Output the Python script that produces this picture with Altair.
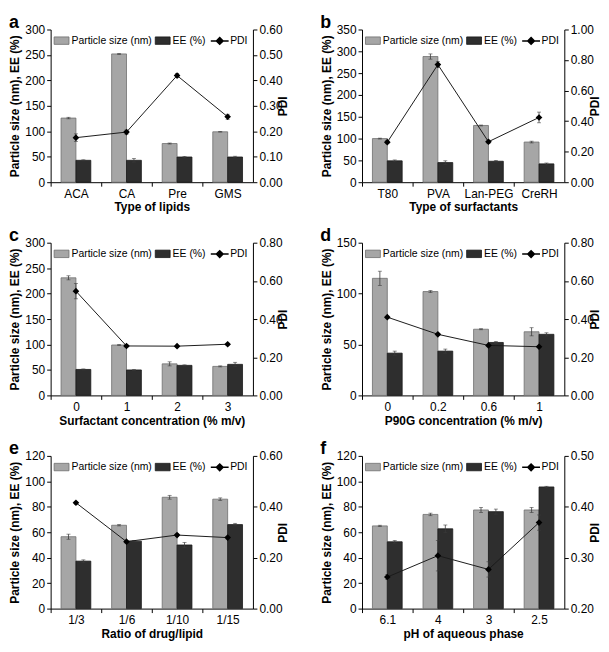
import altair as alt
import pandas as pd

FONT = "Liberation Sans"
PS = "Particle size (nm)"
EE = "EE (%)"
PDI = "PDI"

letters = ["a", "b", "c", "d", "e", "f"]
x_titles = [
    "Type of lipids",
    "Type of surfactants",
    "Surfactant concentration (% m/v)",
    "P90G concentration (% m/v)",
    "Ratio of drug/lipid",
    "pH of aqueous phase",
]
categories = [
    ["ACA", "CA", "Pre", "GMS"],
    ["T80", "PVA", "Lan-PEG", "CreRH"],
    ["0", "1", "2", "3"],
    ["0", "0.2", "0.6", "1"],
    ["1/3", "1/6", "1/10", "1/15"],
    ["6.1", "4", "3", "2.5"],
]
ps_vals = [
    [126, 252, 76, 99],
    [100, 288, 130, 92],
    [231, 99, 62, 57],
    [115, 102, 65, 62.5],
    [56.5, 65.5, 87.5, 86],
    [65, 74, 77.5, 77.5],
]
ps_errs = [
    [1.5, 1, 1, 0.5],
    [1, 6, 1, 2],
    [4, 1, 4, 1],
    [7, 1, 0.5, 4],
    [2, 0.5, 1.5, 1],
    [0.5, 1, 2, 2],
]
ee_vals = [
    [43, 43, 49.5, 49.5],
    [49, 45, 48, 42],
    [51, 50, 59, 61],
    [41.5, 43.5, 52, 60],
    [37.3, 53, 50, 66],
    [52.5, 62.7, 76.2, 95.6],
]
ee_errs = [
    [1, 3.5, 1, 1.5],
    [2, 4, 2, 2],
    [1, 1, 1, 4],
    [2, 2, 1, 1.5],
    [1, 0.5, 2, 1],
    [1, 3, 2, 0.5],
]
pdi_vals = [
    [0.175, 0.197, 0.419, 0.257],
    [0.262, 0.77, 0.265, 0.424],
    [0.546, 0.259, 0.258, 0.268],
    [0.41, 0.32, 0.262, 0.255],
    [0.416, 0.263, 0.289, 0.279],
    [0.262, 0.304, 0.277, 0.369],
]
pdi_errs = [
    [0.015, 0.008, 0.008, 0.01],
    [0.01, 0.02, 0.01, 0.035],
    [0.04, 0.005, 0.005, 0.005],
    [0.005, 0.005, 0.005, 0.005],
    [0.005, 0.005, 0.005, 0.005],
    [0.005, 0.03, 0.015, 0.015],
]
left_ticks = [
    [0, 50, 100, 150, 200, 250, 300],
    [0, 50, 100, 150, 200, 250, 300, 350],
    [0, 50, 100, 150, 200, 250, 300],
    [0, 50, 100, 150],
    [0, 20, 40, 60, 80, 100, 120],
    [0, 20, 40, 60, 80, 100, 120],
]
right_ticks = [
    [0.0, 0.1, 0.2, 0.3, 0.4, 0.5, 0.6],
    [0.0, 0.2, 0.4, 0.6, 0.8, 1.0],
    [0.0, 0.2, 0.4, 0.6, 0.8],
    [0.0, 0.2, 0.4, 0.6, 0.8],
    [0.0, 0.2, 0.4, 0.6],
    [0.2, 0.3, 0.4, 0.5],
]

W = 204
H = 154
STEP = W / 4

GRAY = "#a6a6a6"
GRAY_EDGE = "#6f6f6f"
DARK = "#2e2e2e"
DARK_EDGE = "#1a1a1a"
ERR = "#3a3a3a"

BOX = "M-1,-0.5H1V0.5H-1Z"
LINE_DIAMOND = "M-1.2,0H1.2M0,-0.45L0.45,0L0,0.45L-0.45,0Z"

LEG_FONT = 10.5
LEG_Y = 3


def panel(i):
    cats = categories[i]
    bars_df = pd.DataFrame({
        "cat": cats * 2,
        "series": [PS] * 4 + [EE] * 4,
        "value": ps_vals[i] + ee_vals[i],
        "err": ps_errs[i] + ee_errs[i],
    })
    bars_df["lo"] = bars_df["value"] - bars_df["err"]
    bars_df["hi"] = bars_df["value"] + bars_df["err"]
    pdi_df = pd.DataFrame({"cat": cats, "pdi": pdi_vals[i], "err": pdi_errs[i]})
    pdi_df["lo"] = pdi_df["pdi"] - pdi_df["err"]
    pdi_df["hi"] = pdi_df["pdi"] + pdi_df["err"]
    pdi_df["series"] = PDI

    x_axis = alt.Axis(
        title=x_titles[i], labelAngle=0, tickOffset=-STEP / 2, labelOffset=STEP / 2,
        labelOverlap=False, titlePadding=3,
    )
    xenc = alt.X("cat:N", sort=cats, scale=alt.Scale(paddingInner=0, paddingOuter=0), axis=x_axis)
    xoff = alt.XOffset("series:N", sort=[PS, EE],
                       scale=alt.Scale(domain=[PS, EE], paddingOuter=0.7, paddingInner=0))

    lscale = alt.Scale(domain=[left_ticks[i][0], left_ticks[i][-1]], nice=False)
    laxis = alt.Axis(title="Particle size (nm), EE (%)", values=left_ticks[i], orient="left",
                     labelFlush=False, titlePadding=3, format="d")

    def yl(f):
        return alt.Y(f, scale=lscale, axis=laxis)

    rscale = alt.Scale(domain=[right_ticks[i][0], right_ticks[i][-1]], nice=False)
    raxis = alt.Axis(title="PDI", values=right_ticks[i], orient="right", format=".2f",
                     labelFlush=False, titlePadding=8, titleAngle=270)

    def yr(f):
        return alt.Y(f, scale=rscale, axis=raxis)

    bar_legend = alt.Legend(
        title=None, orient="none", legendX=3, legendY=LEG_Y, direction="horizontal",
        symbolSize=225, labelFontSize=LEG_FONT, labelOffset=2, columnPadding=0,
        symbolStrokeWidth=0.8, labelFont=FONT, labelColor="black",
        symbolType=BOX, symbolStrokeColor="#555555",
    )
    pdi_legend = alt.Legend(
        title=None, orient="none", legendX=162, legendY=LEG_Y, direction="horizontal",
        symbolSize=225, labelFontSize=LEG_FONT, labelOffset=2, symbolOpacity=1,
        labelFont=FONT, labelColor="black",
    )

    base = alt.Chart(bars_df)
    bars = base.mark_bar(strokeWidth=0.8).encode(
        x=xenc, xOffset=xoff, y=yl("value:Q"),
        color=alt.Color("series:N", scale=alt.Scale(domain=[PS, EE], range=[GRAY, DARK]),
                        legend=bar_legend),
        stroke=alt.Stroke("series:N", scale=alt.Scale(domain=[PS, EE], range=[GRAY_EDGE, DARK_EDGE]),
                          legend=None),
    )
    err_rule = base.mark_rule(color=ERR, strokeWidth=0.8).encode(
        x=xenc, xOffset=xoff, y=yl("lo:Q"), y2="hi:Q")
    cap_hi = base.mark_tick(color=ERR, thickness=0.8, size=4).encode(x=xenc, xOffset=xoff, y=yl("hi:Q"))
    cap_lo = base.mark_tick(color=ERR, thickness=0.8, size=4).encode(x=xenc, xOffset=xoff, y=yl("lo:Q"))
    left = alt.layer(bars, err_rule, cap_hi, cap_lo)

    pbase = alt.Chart(pdi_df)
    line = pbase.mark_line(color="#1a1a1a", strokeWidth=1).encode(x=xenc, y=yr("pdi:Q"))
    prule = pbase.mark_rule(color=ERR, strokeWidth=0.8).encode(x=xenc, y=yr("lo:Q"), y2="hi:Q")
    pcap_hi = pbase.mark_tick(color=ERR, thickness=0.8, size=4).encode(x=xenc, y=yr("hi:Q"))
    pcap_lo = pbase.mark_tick(color=ERR, thickness=0.8, size=4).encode(x=xenc, y=yr("lo:Q"))
    pts = pbase.mark_point(shape="diamond", filled=True, size=45, color="black", opacity=1).encode(
        x=xenc, y=yr("pdi:Q"))
    # legend-only layer (no rows reach the mark) giving the line + diamond key
    leg = pbase.transform_filter("false").mark_point(
        filled=True, color="black", stroke="black", strokeWidth=1, opacity=1
    ).encode(
        x=xenc, y=yr("pdi:Q"),
        shape=alt.Shape("series:N", scale=alt.Scale(domain=[PDI], range=[LINE_DIAMOND]),
                        legend=pdi_legend),
    )
    right = alt.layer(line, prule, pcap_hi, pcap_lo, pts, leg)

    return alt.layer(left, right).resolve_scale(y="independent").properties(
        width=W, height=H,
        title=alt.TitleParams(letters[i], anchor="start", frame="bounds", fontSize=18,
                              fontWeight="bold", font=FONT, color="black", offset=-8),
    )


chart = alt.concat(*[panel(i) for i in range(6)], columns=2,
                   spacing={"row": 14, "column": 30}).resolve_scale(
    color="independent", stroke="independent", shape="independent"
).resolve_legend(color="independent", shape="independent").properties(
    padding={"top": 3, "left": 0, "right": 0, "bottom": 0}
).configure_axis(
    labelFont=FONT, titleFont=FONT, labelFontSize=12, titleFontSize=12, titleFontWeight="bold",
    labelColor="black", titleColor="black", domainColor="black", tickColor="black",
    tickSize=4, grid=False, labelPadding=2, domainWidth=1, tickWidth=1,
).configure_view(stroke=None)

chart.save("out.html", embed_options={"renderer": "svg", "actions": False})
